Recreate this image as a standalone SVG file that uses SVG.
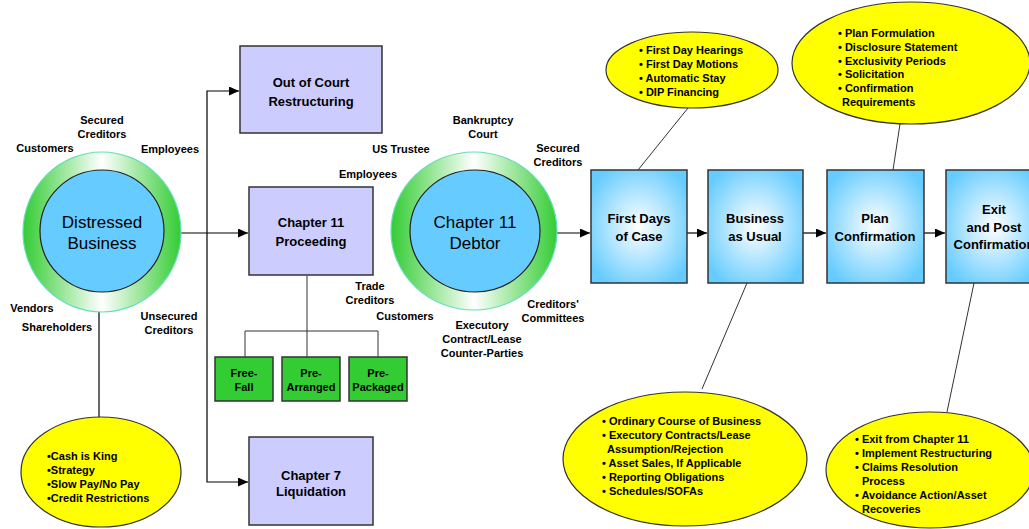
<svg xmlns="http://www.w3.org/2000/svg" width="1029" height="529" viewBox="0 0 1029 529">
<style>
text{font-family:"Liberation Sans",Arial,sans-serif;fill:#000}
.lbl{font-size:11px;font-weight:bold;text-anchor:middle}
.bul{font-size:11px;font-weight:bold}
.bx{font-size:13px;font-weight:bold;text-anchor:middle}
.big{font-size:17px;text-anchor:middle}
.lav{fill:#ccccff;stroke:#333;stroke-width:1.5}
.grn{fill:#33cc33;stroke:#333;stroke-width:1.5}
.blu{fill:url(#bg);stroke:#333;stroke-width:1.5}
.yel{fill:#ffff00;stroke:#333;stroke-width:1.2}
.ring{fill:url(#rg);stroke:#66ddbb;stroke-width:1.2}
.inner{fill:#66ccff;stroke:#222;stroke-width:1.2}
.ln{fill:none;stroke:#000;stroke-width:1.2}
.tl{fill:none;stroke:#333;stroke-width:1}
</style>
<defs>
<marker id="ar" markerUnits="userSpaceOnUse" markerWidth="11" markerHeight="10" refX="10" refY="4.5" orient="auto"><path d="M0,0 L10,4.5 L0,9 z" fill="#000"/></marker>
<linearGradient id="rg" x1="0" y1="0" x2="1" y2="0"><stop offset="0" stop-color="#33cc33"/><stop offset="0.5" stop-color="#ffffff"/><stop offset="1" stop-color="#33cc33"/></linearGradient>
<radialGradient id="bg" cx="0.5" cy="0.5" r="0.6"><stop offset="0" stop-color="#ffffff"/><stop offset="1" stop-color="#66ccff"/></radialGradient>
</defs>
<rect width="1029" height="529" fill="#fff"/>
<g id="connectors">
<line class="ln" x1="181" y1="233" x2="248" y2="233" marker-end="url(#ar)"/>
<polyline class="ln" points="207,233 207,91 239,91" marker-end="url(#ar)"/>
<polyline class="ln" points="207,233 207,482 248,482" marker-end="url(#ar)"/>
<line class="ln" x1="99" y1="312" x2="99" y2="418"/>
<line class="tl" x1="307" y1="276" x2="307" y2="357"/>
<polyline class="tl" points="245,357 245,331 378,331 378,357"/>
<line class="ln" x1="557" y1="233" x2="590" y2="233" marker-end="url(#ar)"/>
<line class="ln" x1="687" y1="233" x2="707" y2="233" marker-end="url(#ar)"/>
<line class="ln" x1="803" y1="233" x2="826" y2="233" marker-end="url(#ar)"/>
<line class="ln" x1="924" y1="233" x2="945" y2="233" marker-end="url(#ar)"/>
<line class="tl" x1="688" y1="108" x2="638" y2="170"/>
<line class="tl" x1="900" y1="124" x2="893" y2="170"/>
<line class="tl" x1="747" y1="283" x2="702" y2="389"/>
<line class="tl" x1="974" y1="283" x2="947" y2="412"/>
</g>
<g id="distressed">
<ellipse class="ring" cx="102" cy="232" rx="79" ry="80"/>
<ellipse class="inner" cx="102" cy="231" rx="62" ry="61"/>
<text class="big" x="102" y="228">Distressed</text>
<text class="big" x="102" y="249">Business</text>
</g>
<g id="labels-left">
<text class="lbl" x="102" y="124">Secured</text>
<text class="lbl" x="102" y="138">Creditors</text>
<text class="lbl" x="45" y="152">Customers</text>
<text class="lbl" x="170" y="153">Employees</text>
<text class="lbl" x="32" y="312">Vendors</text>
<text class="lbl" x="57" y="331">Shareholders</text>
<text class="lbl" x="169" y="320">Unsecured</text>
<text class="lbl" x="169" y="334">Creditors</text>
</g>
<g id="cash">
<ellipse class="yel" cx="101" cy="472" rx="80" ry="55"/>
<text class="bul" x="47" y="460">•Cash is King</text>
<text class="bul" x="47" y="474">•Strategy</text>
<text class="bul" x="47" y="488">•Slow Pay/No Pay</text>
<text class="bul" x="47" y="502">•Credit Restrictions</text>
</g>
<g id="outofcourt">
<rect class="lav" x="240" y="46" width="142" height="87"/>
<text class="bx" x="311" y="87">Out of Court</text>
<text class="bx" x="311" y="106">Restructuring</text>
</g>
<g id="ch11proc">
<rect class="lav" x="249" y="187" width="124" height="88"/>
<text class="bx" x="311" y="227">Chapter 11</text>
<text class="bx" x="311" y="246">Proceeding</text>
</g>
<g id="freefall">
<rect class="grn" x="215" y="357" width="58" height="44"/>
<text class="lbl" x="244" y="377">Free-</text>
<text class="lbl" x="244" y="391">Fall</text>
</g>
<g id="prearranged">
<rect class="grn" x="282" y="357" width="58" height="44"/>
<text class="lbl" x="311" y="377">Pre-</text>
<text class="lbl" x="311" y="391">Arranged</text>
</g>
<g id="prepackaged">
<rect class="grn" x="349" y="357" width="58" height="44"/>
<text class="lbl" x="378" y="377">Pre-</text>
<text class="lbl" x="378" y="391">Packaged</text>
</g>
<g id="ch7">
<rect class="lav" x="249" y="437" width="124" height="88"/>
<text class="bx" x="311" y="480">Chapter 7</text>
<text class="bx" x="311" y="496">Liquidation</text>
</g>
<g id="debtor">
<ellipse class="ring" cx="474" cy="231" rx="83" ry="79"/>
<ellipse class="inner" cx="475" cy="231" rx="65" ry="61"/>
<text class="big" x="475" y="228">Chapter 11</text>
<text class="big" x="475" y="249">Debtor</text>
</g>
<g id="labels-debtor">
<text class="lbl" x="483" y="124">Bankruptcy</text>
<text class="lbl" x="483" y="138">Court</text>
<text class="lbl" x="401" y="153">US Trustee</text>
<text class="lbl" x="558" y="152">Secured</text>
<text class="lbl" x="558" y="166">Creditors</text>
<text class="lbl" x="368" y="178">Employees</text>
<text class="lbl" x="370" y="290">Trade</text>
<text class="lbl" x="370" y="304">Creditors</text>
<text class="lbl" x="405" y="320">Customers</text>
<text class="lbl" x="553" y="308">Creditors'</text>
<text class="lbl" x="553" y="322">Committees</text>
<text class="lbl" x="482" y="329">Executory</text>
<text class="lbl" x="482" y="343">Contract/Lease</text>
<text class="lbl" x="482" y="357">Counter-Parties</text>
</g>
<g id="firstdays">
<rect class="blu" x="591" y="170" width="96" height="113"/>
<text class="bx" x="639" y="223">First Days</text>
<text class="bx" x="639" y="241">of Case</text>
</g>
<g id="business">
<rect class="blu" x="708" y="170" width="95" height="113"/>
<text class="bx" x="755" y="223">Business</text>
<text class="bx" x="755" y="241">as Usual</text>
</g>
<g id="plan">
<rect class="blu" x="827" y="170" width="97" height="113"/>
<text class="bx" x="875" y="223">Plan</text>
<text class="bx" x="875" y="241">Confirmation</text>
</g>
<g id="exit">
<rect class="blu" x="946" y="170" width="96" height="113"/>
<text class="bx" x="994" y="214">Exit</text>
<text class="bx" x="994" y="232">and Post</text>
<text class="bx" x="994" y="249">Confirmation</text>
</g>
<g id="firstdays-notes">
<ellipse class="yel" cx="692" cy="70" rx="86" ry="38"/>
<text class="bul" x="639" y="54">• First Day Hearings</text>
<text class="bul" x="639" y="68">• First Day Motions</text>
<text class="bul" x="639" y="82">• Automatic Stay</text>
<text class="bul" x="639" y="96">• DIP Financing</text>
</g>
<g id="plan-notes">
<ellipse class="yel" cx="911" cy="63" rx="119" ry="61"/>
<text class="bul" x="838" y="37">• Plan Formulation</text>
<text class="bul" x="838" y="51">• Disclosure Statement</text>
<text class="bul" x="838" y="65">• Exclusivity Periods</text>
<text class="bul" x="838" y="78">• Solicitation</text>
<text class="bul" x="838" y="92">• Confirmation</text>
<text class="bul" x="842" y="106">Requirements</text>
</g>
<g id="business-notes">
<ellipse class="yel" cx="685" cy="459" rx="122" ry="67"/>
<text class="bul" x="602" y="425">• Ordinary Course of Business</text>
<text class="bul" x="602" y="439">• Executory Contracts/Lease</text>
<text class="bul" x="607" y="453">Assumption/Rejection</text>
<text class="bul" x="602" y="467">• Asset Sales, If Applicable</text>
<text class="bul" x="602" y="481">• Reporting Obligations</text>
<text class="bul" x="602" y="495">• Schedules/SOFAs</text>
</g>
<g id="exit-notes">
<ellipse class="yel" cx="930" cy="470" rx="104" ry="58"/>
<text class="bul" x="855" y="443">• Exit from Chapter 11</text>
<text class="bul" x="855" y="457">• Implement Restructuring</text>
<text class="bul" x="855" y="471">• Claims Resolution</text>
<text class="bul" x="862" y="485">Process</text>
<text class="bul" x="855" y="499">• Avoidance Action/Asset</text>
<text class="bul" x="862" y="513">Recoveries</text>
</g>
</svg>
